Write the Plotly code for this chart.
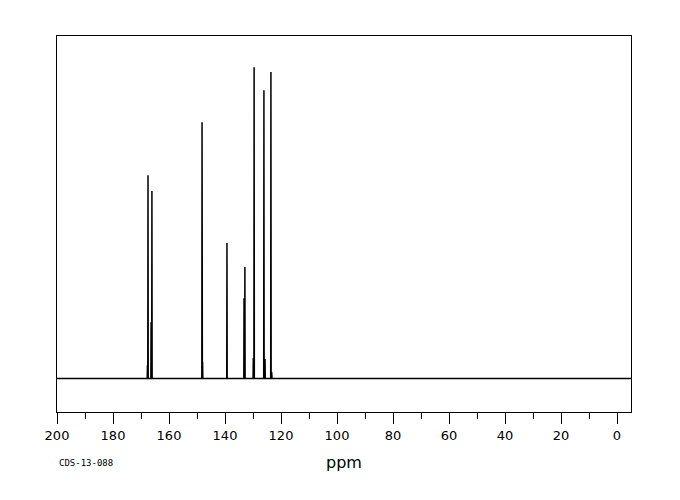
import plotly.graph_objects as go

# Peak list (chemical shift in ppm, relative intensity)
peak_ppm = [167.7, 167.5, 166.4, 166.1, 148.2, 148.0, 139.3, 133.2, 132.9,
            129.9, 129.6, 126.1, 125.7, 123.6, 123.3]
peak_int = [4.3, 65.3, 18.1, 60.2, 82.3, 5.3, 43.5, 25.8, 35.8,
            6.6, 100.0, 92.6, 6.3, 98.4, 2.0]
x_start, x_end = 200.0, -5.0
half_width = 0.08
tick_vals = [200, 180, 160, 140, 120, 100, 80, 60, 40, 20, 0]
tick_text = [str(v) for v in tick_vals]

# Build the stick spectrum line
pairs = sorted(zip(peak_ppm, peak_int), key=lambda t: -t[0])
xs, ys = [x_start], [0.0]
for p, h in pairs:
    xs += [p + half_width, p, p - half_width]
    ys += [0.0, h, 0.0]
xs.append(x_end)
ys.append(0.0)

fig = go.Figure()
fig.add_trace(go.Scatter(x=xs, y=ys, mode="lines",
                         line=dict(color="black", width=1.5),
                         hoverinfo="skip", showlegend=False))

fig.update_layout(
    width=672, height=492,
    margin=dict(l=49, r=49, t=28, b=88),
    paper_bgcolor="white", plot_bgcolor="white",
    font=dict(family="DejaVu Sans", color="black"),
    xaxis=dict(range=[x_start, x_end], tickvals=tick_vals, ticktext=tick_text,
               ticks="outside", ticklen=11, tickwidth=1, tickcolor="black",
               minor=dict(dtick=10, ticks="outside", ticklen=6, tickwidth=1,
                          tickcolor="black"),
               showline=True, linecolor="black", linewidth=1, mirror=True,
               showgrid=False, zeroline=False,
               tickfont=dict(family="DejaVu Sans", size=13, color="black"),
               ticklabelstandoff=0),
    yaxis=dict(range=[-10.75, 110.0], showticklabels=False, ticks="",
               showline=True, linecolor="black", linewidth=1, mirror=True,
               showgrid=False, zeroline=False),
    annotations=[
        dict(text="ppm", xref="paper", yref="paper", x=0.5, y=0,
             xanchor="center", yanchor="middle", yshift=-50, showarrow=False,
             font=dict(family="DejaVu Sans", size=16, color="black")),
        dict(text="CDS-13-088", xref="paper", yref="paper", x=0, y=0,
             xanchor="left", yanchor="middle", yshift=-51, showarrow=False,
             font=dict(family="DejaVu Sans Mono", size=9, color="black")),
    ],
)

fig.write_html("out.html")
